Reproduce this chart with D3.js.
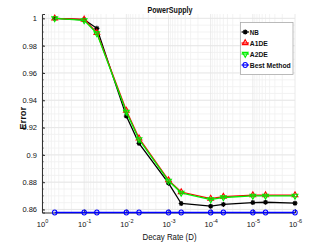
<!DOCTYPE html>
<html>
<head>
<meta charset="utf-8">
<script src="https://d3js.org/d3.v7.min.js"></script>
<style>
  body { margin: 0; background: #fff; }
  text { font-family: "Liberation Sans", Arial, sans-serif; fill: #111; }
</style>
</head>
<body>
<script>
// chart values
const decay = [0.5, 0.1, 0.05, 0.01, 0.005, 0.001, 0.0005, 0.0001, 0.00005, 0.00001, 0.000005, 0.000001];
const nb    = [1.000, 0.9990, 0.9927, 0.9284, 0.9084, 0.8793, 0.8644, 0.8624, 0.8637, 0.8651, 0.8653, 0.8646];
const a1de  = [1.000, 0.9992, 0.9895, 0.9325, 0.9122, 0.8815, 0.8728, 0.8680, 0.8694, 0.8705, 0.8705, 0.8705];
const a2de  = [1.000, 0.9985, 0.9890, 0.9315, 0.9113, 0.8810, 0.8722, 0.8673, 0.8688, 0.8700, 0.8700, 0.8700];
const best  = [0.8578, 0.8578, 0.8578, 0.8578, 0.8578, 0.8578, 0.8578, 0.8578, 0.8578, 0.8578, 0.8578, 0.8578];
const yTicks = [0.86, 0.88, 0.9, 0.92, 0.94, 0.96, 0.98, 1];
const xTicks = [1, 0.1, 0.01, 0.001, 0.0001, 0.00001, 0.000001];
const seriesNames = ["NB", "A1DE", "A2DE", "Best Method"];

const W = 327, H = 245;
const mLeft = 42, mRight = 295, mTop = 14, mBottom = 212.5;

const svg = d3.select("body").append("svg")
    .attr("width", W)
    .attr("height", H);

svg.append("rect").attr("width", W).attr("height", H).attr("fill", "#fff");

const x = d3.scaleLog().domain([1, 1e-6]).range([mLeft, mRight]);
const y = d3.scaleLinear().domain([0.8578, 1.0032]).range([mBottom, mTop]);

// grid
const minorX = [];
for (let e = 0; e > -6; e--) {
  for (let k = 2; k < 10; k++) minorX.push(k * Math.pow(10, e - 1));
}
const minorY = d3.range(0.86, 1.0031, 0.005);

const grid = svg.append("g");
grid.selectAll(".mx").data(minorX).join("line")
    .attr("x1", d => x(d)).attr("x2", d => x(d))
    .attr("y1", mTop).attr("y2", mBottom)
    .attr("stroke", "#f0f0f0").attr("stroke-width", 0.8);
grid.selectAll(".my").data(minorY).join("line")
    .attr("x1", mLeft).attr("x2", mRight)
    .attr("y1", d => y(d)).attr("y2", d => y(d))
    .attr("stroke", "#f0f0f0").attr("stroke-width", 0.8);
grid.selectAll(".gx").data(xTicks).join("line")
    .attr("x1", d => x(d)).attr("x2", d => x(d))
    .attr("y1", mTop).attr("y2", mBottom)
    .attr("stroke", "#e4e4e4").attr("stroke-width", 0.8);
grid.selectAll(".gy").data(yTicks).join("line")
    .attr("x1", mLeft).attr("x2", mRight)
    .attr("y1", d => y(d)).attr("y2", d => y(d))
    .attr("stroke", "#e4e4e4").attr("stroke-width", 0.8);

// axes
const yAxis = svg.append("g")
    .attr("transform", `translate(${mLeft},0)`)
    .call(d3.axisLeft(y).tickValues(yTicks).tickSize(-3).tickPadding(5)
      .tickFormat(d => String(+d.toFixed(2))));
yAxis.select(".domain").attr("stroke", "#333");
yAxis.selectAll(".tick line").attr("stroke", "#333");
yAxis.selectAll("text").style("font-size", "7.5px").attr("fill", "#111");
yAxis.selectAll(".minor").data(minorY).join("line").attr("class", "minor")
    .attr("x1", 0).attr("x2", 1.5)
    .attr("y1", d => y(d)).attr("y2", d => y(d)).attr("stroke", "#333");

const xAxis = svg.append("g")
    .attr("transform", `translate(0,${mBottom})`)
    .call(d3.axisBottom(x).tickValues(xTicks).tickSize(-3).tickPadding(6).tickFormat(""));
xAxis.select(".domain").attr("stroke", "#333");
xAxis.selectAll(".tick line").attr("stroke", "#333");
xAxis.selectAll(".tick").each(function(d) {
  const t = d3.select(this).append("text")
      .attr("y", 14).attr("text-anchor", "middle")
      .style("font-size", "7.5px").attr("fill", "#111");
  t.append("tspan").text("10");
  t.append("tspan").attr("dy", -3.5).style("font-size", "5.5px")
      .text(String(Math.round(Math.log10(d))));
});

// markers
function drawMarker(g, type, color, cx, cy) {
  if (type === "star") {
    const s = 2.5;
    g.append("path")
      .attr("d", `M${cx - s},${cy}L${cx + s},${cy}M${cx},${cy - s}L${cx},${cy + s}` +
        `M${cx - s * 0.7},${cy - s * 0.7}L${cx + s * 0.7},${cy + s * 0.7}` +
        `M${cx - s * 0.7},${cy + s * 0.7}L${cx + s * 0.7},${cy - s * 0.7}`)
      .attr("stroke", color).attr("stroke-width", 1.2).attr("fill", "none");
  } else if (type === "up" || type === "down") {
    g.append("path")
      .attr("d", d3.symbol().type(d3.symbolTriangle).size(14)())
      .attr("transform", `translate(${cx},${cy})` + (type === "down" ? " rotate(180)" : ""))
      .attr("stroke", color).attr("stroke-width", 1.1).attr("fill", "none");
  } else {
    g.append("ellipse").attr("cx", cx).attr("cy", cy).attr("rx", 2.2).attr("ry", 2.5)
      .attr("stroke", color).attr("stroke-width", 1.1).attr("fill", "none");
  }
}

const series = [
  { name: seriesNames[0], values: nb,   color: "#000000", marker: "star" },
  { name: seriesNames[1], values: a1de, color: "#ff0000", marker: "up" },
  { name: seriesNames[2], values: a2de, color: "#00ee00", marker: "down" },
  { name: seriesNames[3], values: best, color: "#0000ff", marker: "circle" }
];

const line = d3.line().x(d => x(d[0])).y(d => y(d[1]));
series.forEach(s => {
  const pts = decay.map((d, i) => [d, s.values[i]]);
  const g = svg.append("g");
  g.append("path").datum(pts).attr("d", line)
    .attr("fill", "none").attr("stroke", s.color).attr("stroke-width", 1.3);
  pts.forEach(p => drawMarker(g, s.marker, s.color, x(p[0]), y(p[1])));
});

// title and labels
svg.append("text").attr("x", 170).attr("y", 13).attr("text-anchor", "middle")
    .attr("textLength", 45).attr("lengthAdjust", "spacingAndGlyphs")
    .style("font-size", "9.5px").style("font-weight", "bold").text("PowerSupply");
svg.append("text").attr("x", 169.5).attr("y", 240).attr("text-anchor", "middle")
    .attr("textLength", 54).attr("lengthAdjust", "spacingAndGlyphs")
    .style("font-size", "9px").text("Decay Rate (D)");
svg.append("text").attr("transform", "translate(25.5,118.3) rotate(-90)").attr("text-anchor", "middle")
    .attr("textLength", 23).attr("lengthAdjust", "spacingAndGlyphs")
    .style("font-size", "9px").style("font-weight", "bold").text("Error");

// legend
const legendWidths = [9, 18, 18, 41];
const lg = svg.append("g");
lg.append("rect").attr("x", 240.5).attr("y", 22.5).attr("width", 52.5).attr("height", 52)
    .attr("fill", "#fff").attr("stroke", "#aaa").attr("stroke-width", 0.8);
series.forEach((s, i) => {
  const cy = 32 + i * 11;
  lg.append("line").attr("x1", 241.5).attr("x2", 249).attr("y1", cy).attr("y2", cy)
    .attr("stroke", s.color).attr("stroke-width", 1.2);
  drawMarker(lg, s.marker, s.color, 245.2, cy);
  lg.append("text").attr("x", 249.8).attr("y", cy + 2.8)
    .attr("textLength", legendWidths[i]).attr("lengthAdjust", "spacingAndGlyphs")
    .style("font-size", "7.5px").style("font-weight", "bold").text(s.name);
});
</script>
</body>
</html>
